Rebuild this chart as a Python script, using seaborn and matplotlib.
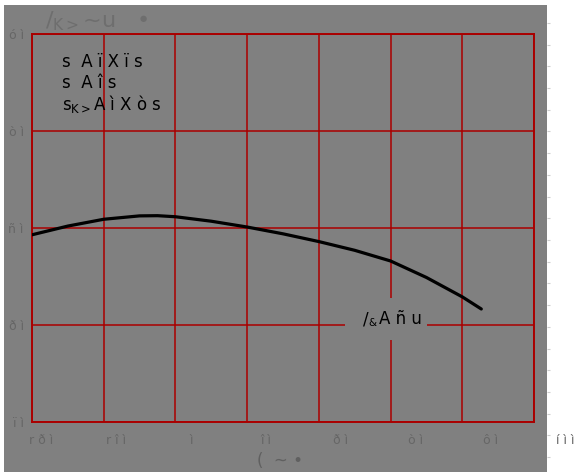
import matplotlib
matplotlib.use("Agg")
import matplotlib.pyplot as plt
from matplotlib.patches import Rectangle
import seaborn as sns
import pandas as pd

# ---- data ----
curve_x = [-40, -30, -20, -10, -5, 0, 10, 20, 30, 40, 50, 60, 70, 80, 85.3]
curve_y = [49.3, 50.2, 50.9, 51.25, 51.27, 51.16, 50.7, 50.1, 49.4, 48.6, 47.7, 46.6, 44.9, 42.9, 41.65]
x_ticks = [-40, -20, 0, 20, 40, 60, 80, 100]
x_tick_labels = ["r ð ì", "r î ì", "ì", "î ì", "ð ì", "ò ì", "ô ì", "í ì ì"]
y_ticks = [30, 40, 50, 60, 70]
y_tick_labels = ["ï ì", "ð ì", "ñ ì", "ò ì", "ó ì"]
legend_lines = ["s  A ï X ï s", "s  A î s", r"s$_{\mathrm{K}{>}}$A ì X ò s"]
title_text = r"/$_{\mathrm{K}{>}}$~u   •"
xlabel_text = "(  ~ •"
annot_parts = ["/", "&", "A ñ u"]
annot_pos = (58.7, 40.6)

W, H = 579, 472
RED = "#aa0000"
GRAY = "#808080"
TICK = "#666666"

sns.set_style("white")
plt.rcParams["font.family"] = ["DejaVu Sans"]
plt.rcParams["mathtext.fontset"] = "dejavusans"

fig = plt.figure(figsize=(W / 100, H / 100), dpi=100)
fig.patch.set_facecolor("white")
fig.patches.append(Rectangle((4 / W, 0), (547 - 4) / W, (H - 5) / H,
                             transform=fig.transFigure, facecolor=GRAY,
                             edgecolor="none", zorder=-10))

L, R, T, B = 32, 534, 34, 422
ax = fig.add_axes([L / W, 1 - B / H, (R - L) / W, (B - T) / H])
ax.set_facecolor(GRAY)

df = pd.DataFrame({"x": curve_x, "y": curve_y})
sns.lineplot(data=df, x="x", y="y", ax=ax, color="black", lw=2.3, sort=False, zorder=3)

ax.set_xlim(-40, 100)
ax.set_ylim(30, 70)
ax.set_xticks(x_ticks)
ax.set_xticklabels([])
ax.set_yticks(y_ticks)
ax.set_yticklabels(y_tick_labels, color=TICK, fontsize=9)
ax.tick_params(axis="both", length=0)
ax.tick_params(axis="y", pad=6)
ax.set_xlabel("")
ax.set_ylabel("")
ax.grid(True, color=RED, lw=1.1)
for s in ax.spines.values():
    s.set_color(RED)
    s.set_linewidth(1.4)

# legend-like text block
for i, t in enumerate(legend_lines):
    ax.text(0.059, 0.928 - i * 0.054, t, transform=ax.transAxes, fontsize=12,
            color="black", va="center", ha="left", zorder=4)

# annotation: gray background box then chained text pieces
ax.add_patch(Rectangle((annot_pos[0] - 11.4, annot_pos[1] - 2.1), 22.9, 4.3,
                       facecolor=GRAY, edgecolor="none", zorder=2.5))
t1 = ax.text(annot_pos[0] - 6.5, annot_pos[1], annot_parts[0], fontsize=12, color="black",
             ha="left", va="center", zorder=4)
t2 = ax.annotate(annot_parts[1], xy=(1.0, 0.0), xycoords=t1, fontsize=7.5, color="black",
                 ha="left", va="bottom", zorder=5)
ax.annotate(annot_parts[2], xy=(1.0, 0.5), xycoords=t1, xytext=(8, 0),
            textcoords="offset points", fontsize=12, color="black",
            ha="left", va="center", zorder=4)

# x tick labels on a slightly wider label axis
lab = fig.add_axes([41 / W, 1 - B / H, (565 - 41) / W, 0.001])
lab.set_xlim(-40, 100)
lab.set_xticks(x_ticks)
lab.set_xticklabels(x_tick_labels, color=TICK, fontsize=9)
lab.tick_params(axis="x", length=0, pad=9)
lab.set_yticks([])
lab.patch.set_alpha(0)
for s in lab.spines.values():
    s.set_visible(False)

# small ticks on the right edge of the gray panel
rt = fig.add_axes([547 / W, 1 - 457 / H, 0.0001, (457 - 23) / H])
rt.set_ylim(0, 20)
rt.set_yticks(list(range(0, 21)))
rt.set_yticklabels([])
rt.set_xticks([])
rt.yaxis.tick_right()
rt.tick_params(axis="y", length=2, color="#cfcfcf", width=0.8, direction="out")
rt.patch.set_alpha(0)
for s in rt.spines.values():
    s.set_visible(False)

fig.text(45 / W, 1 - 21 / H, title_text, fontsize=16, color="#6e6e6e", va="center", ha="left")
fig.text(280 / W, 1 - 461 / H, xlabel_text, fontsize=12, color="#606060", va="center", ha="center")

fig.savefig("out.png", dpi=100, facecolor="white")
